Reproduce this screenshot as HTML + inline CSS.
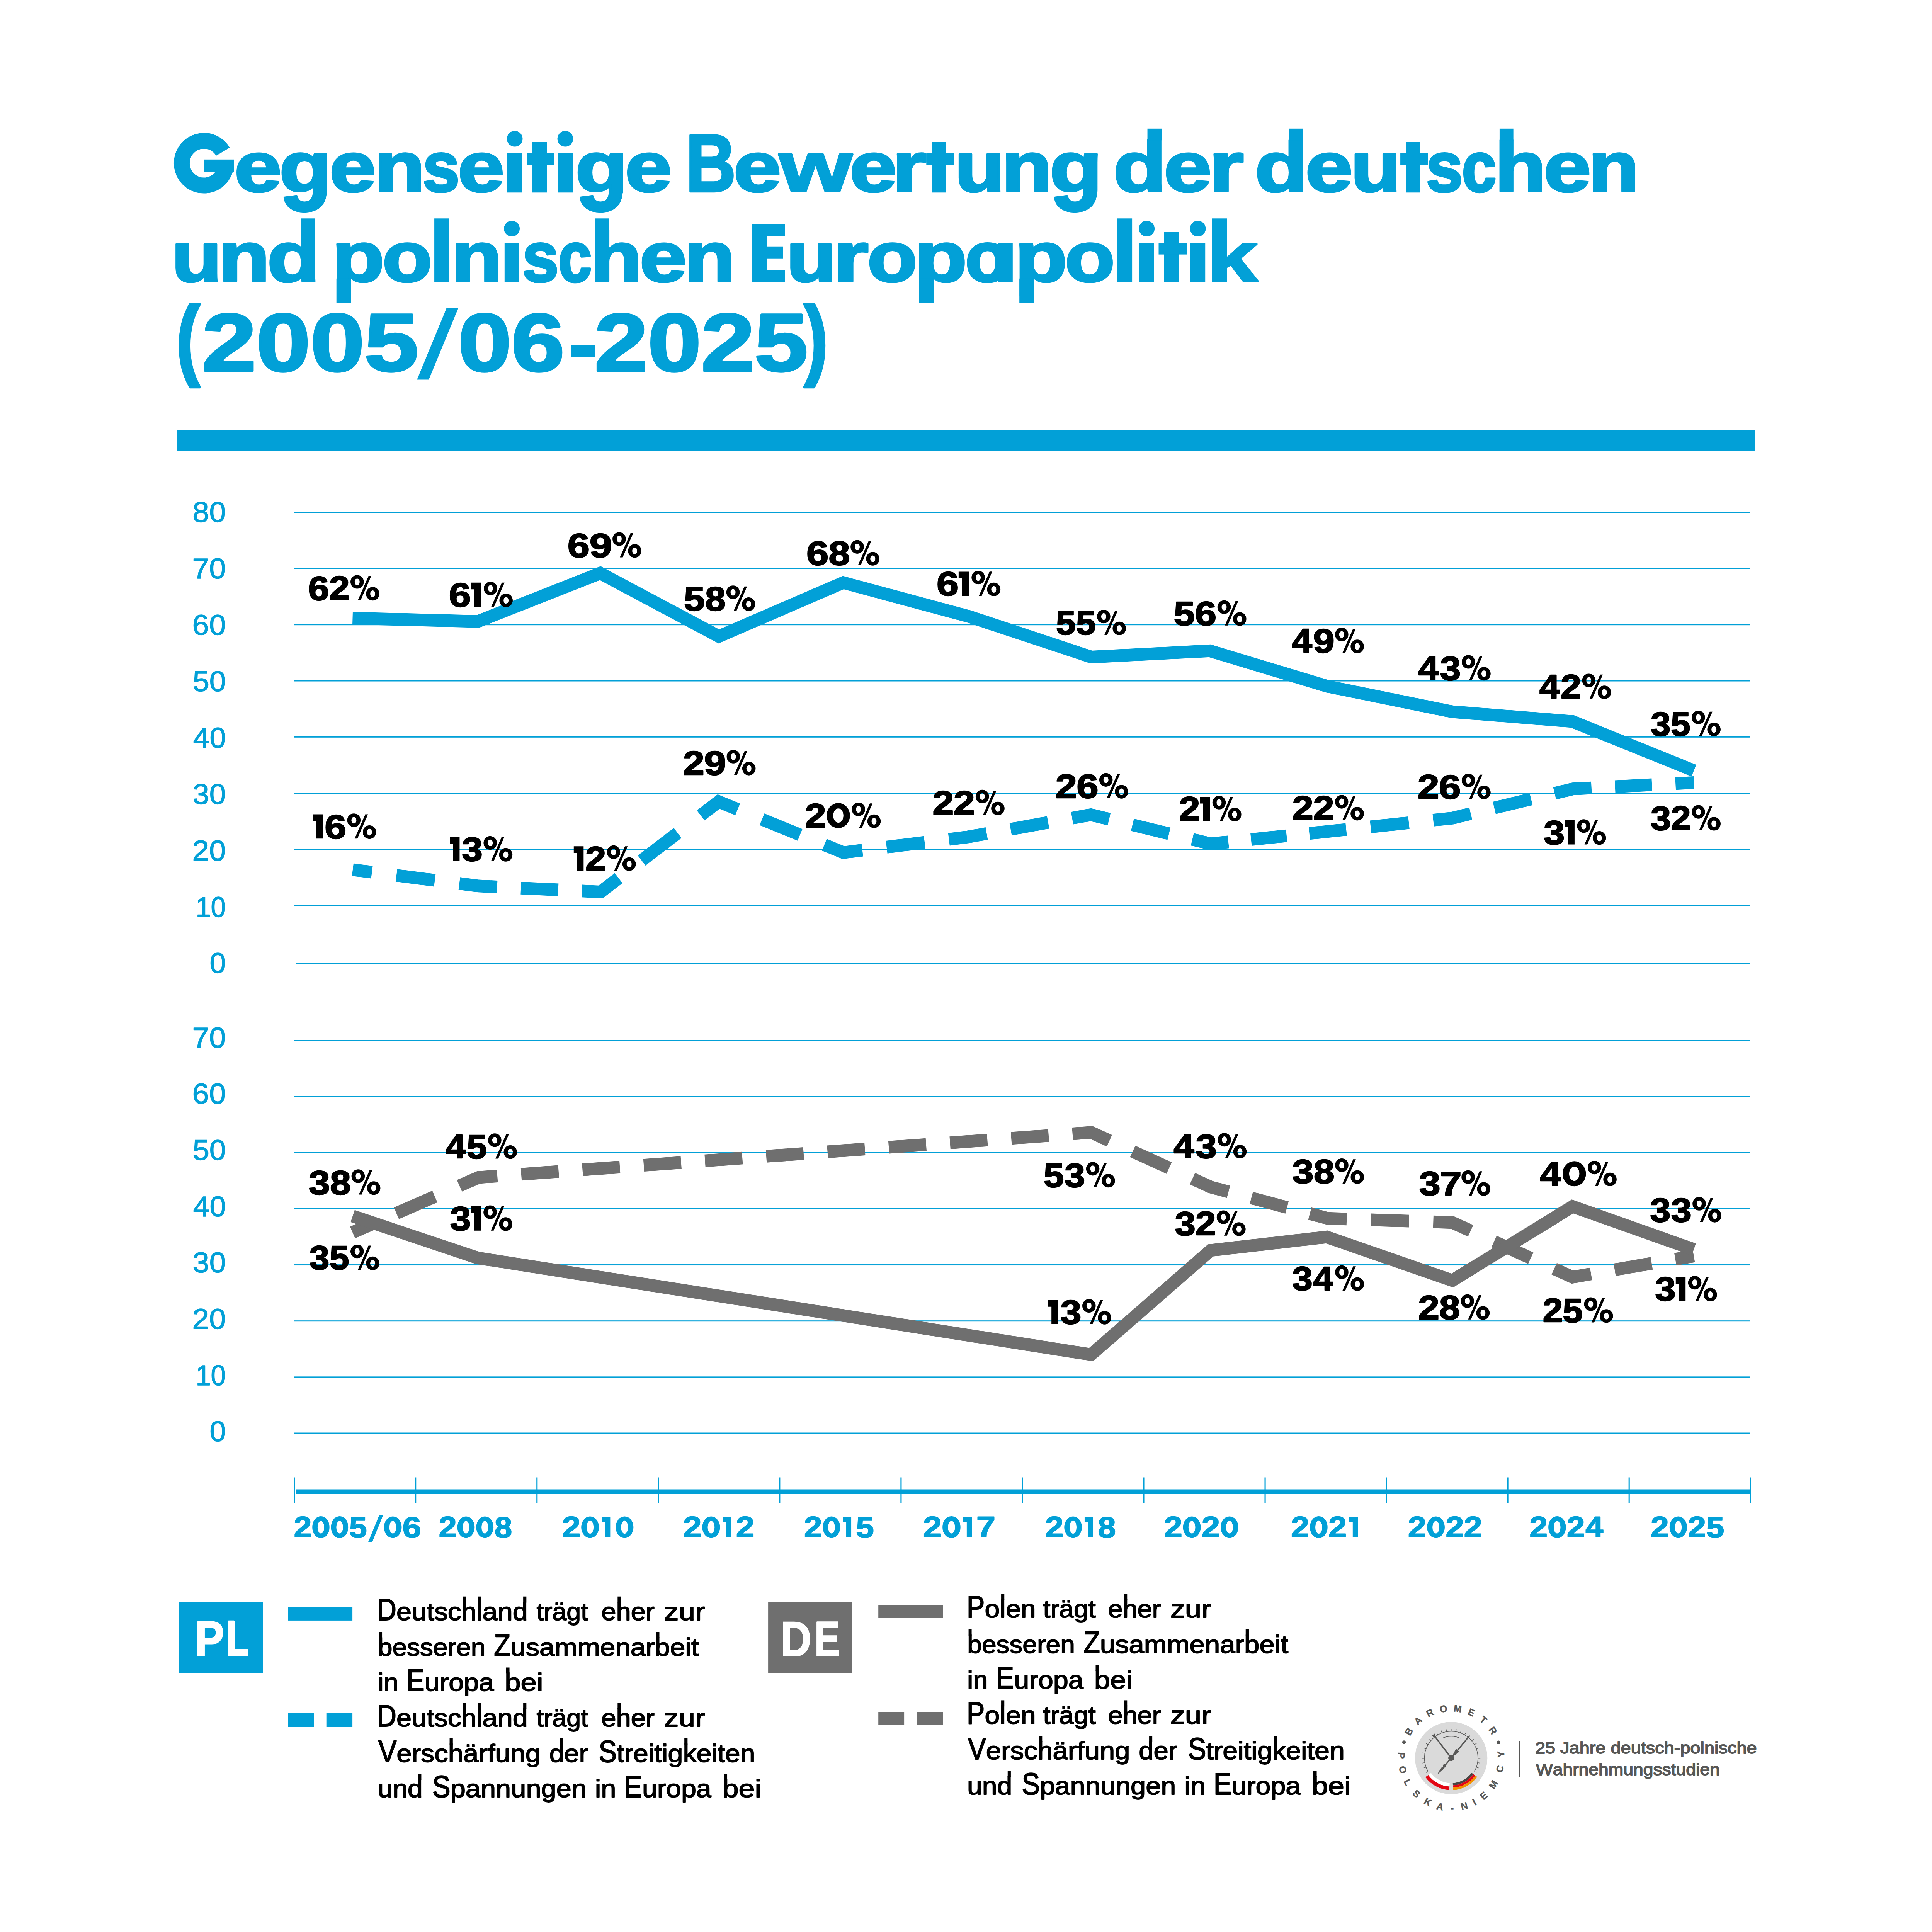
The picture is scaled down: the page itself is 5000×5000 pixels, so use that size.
<!DOCTYPE html>
<html lang="de">
<head>
<meta charset="utf-8">
<title>Gegenseitige Bewertung der deutschen und polnischen Europapolitik (2005/06-2025)</title>
<style>
html,body{margin:0;padding:0;background:#fff;}
body{width:5000px;height:5000px;overflow:hidden;}
svg{display:block;font-family:"Liberation Sans",sans-serif;font-kerning:none;font-variant-ligatures:none;}
svg text{white-space:pre;}
</style>
</head>
<body>
<svg width="5000" height="5000" viewBox="0 0 5000 5000">
<rect width="5000" height="5000" fill="#fff"/>
<path d="M577.00 392.46A57.40 57.85 0 1 0 585.20 422.25" fill="none" stroke="#02a0d7" stroke-width="41.0"/>
<rect x="528.80" y="412.80" width="76.90" height="32.4" fill="#02a0d7"/>
<text transform="translate(606.73 495.30) scale(2.1950 1.8220)" font-size="100" font-weight="bold" fill="#02a0d7" stroke="#02a0d7" stroke-width="3.000" stroke-linejoin="round">e</text>
<clipPath id="cg728a"><rect x="708.9" y="298.3" width="157.9" height="200.7"/></clipPath>
<clipPath id="cg728b"><rect x="708.9" y="497.6" width="157.9" height="120"/></clipPath>
<g clip-path="url(#cg728a)"><text transform="translate(722.77 495.30) scale(2.2250 1.8220)" font-size="100" font-weight="bold" fill="#02a0d7" stroke="#02a0d7" stroke-width="2.980" stroke-linejoin="round">g</text></g>
<g clip-path="url(#cg728b)"><text transform="translate(722.77 495.30) scale(2.2250 2.4774)" font-size="100" font-weight="bold" fill="#02a0d7" stroke="#02a0d7" stroke-width="2.556" stroke-linejoin="round">g</text></g>
<text transform="translate(852.66 495.30) scale(2.1619 1.8220)" font-size="100" font-weight="bold" fill="#02a0d7" stroke="#02a0d7" stroke-width="3.023" stroke-linejoin="round">e</text>
<text transform="translate(969.23 495.30) scale(2.1350 1.8220)" font-size="100" font-weight="bold" fill="#02a0d7" stroke="#02a0d7" stroke-width="3.042" stroke-linejoin="round">n</text>
<text transform="translate(1093.97 495.30) scale(1.7147 1.8220)" font-size="100" font-weight="bold" fill="#02a0d7" stroke="#02a0d7" stroke-width="3.395" stroke-linejoin="round">s</text>
<text transform="translate(1184.96 495.30) scale(2.1598 1.8220)" font-size="100" font-weight="bold" fill="#02a0d7" stroke="#02a0d7" stroke-width="3.025" stroke-linejoin="round">e</text>
<rect x="1312.60" y="396.10" width="39.10" height="102.20" fill="#02a0d7"/>
<circle cx="1332.15" cy="359.20" r="20.4" fill="#02a0d7"/>
<rect x="1377.40" y="367.80" width="37.80" height="130.5" fill="#02a0d7"/>
<rect x="1363.50" y="396.10" width="70.90" height="30.0" fill="#02a0d7"/>
<rect x="1443.80" y="396.10" width="38.20" height="102.20" fill="#02a0d7"/>
<circle cx="1462.90" cy="359.20" r="20.4" fill="#02a0d7"/>
<clipPath id="cg1495a"><rect x="1475.1" y="298.3" width="157.6" height="200.7"/></clipPath>
<clipPath id="cg1495b"><rect x="1475.1" y="497.6" width="157.6" height="120"/></clipPath>
<g clip-path="url(#cg1495a)"><text transform="translate(1489.00 495.30) scale(2.2190 1.8220)" font-size="100" font-weight="bold" fill="#02a0d7" stroke="#02a0d7" stroke-width="2.984" stroke-linejoin="round">g</text></g>
<g clip-path="url(#cg1495b)"><text transform="translate(1489.00 495.30) scale(2.2190 2.4774)" font-size="100" font-weight="bold" fill="#02a0d7" stroke="#02a0d7" stroke-width="2.559" stroke-linejoin="round">g</text></g>
<text transform="translate(1617.79 495.30) scale(2.1785 1.8220)" font-size="100" font-weight="bold" fill="#02a0d7" stroke="#02a0d7" stroke-width="3.012" stroke-linejoin="round">e</text>
<text transform="translate(1775.04 495.30) scale(1.7873 2.1076)" font-size="100" font-weight="bold" fill="#02a0d7" stroke="#02a0d7" stroke-width="3.091" stroke-linejoin="round">B</text>
<text transform="translate(1898.55 495.30) scale(2.2137 1.8220)" font-size="100" font-weight="bold" fill="#02a0d7" stroke="#02a0d7" stroke-width="2.988" stroke-linejoin="round">e</text>
<text transform="translate(2016.91 495.30) scale(2.4160 1.8220)" font-size="100" font-weight="bold" fill="#02a0d7" stroke="#02a0d7" stroke-width="2.860" stroke-linejoin="round">w</text>
<text transform="translate(2198.82 495.30) scale(2.1971 1.8220)" font-size="100" font-weight="bold" fill="#02a0d7" stroke="#02a0d7" stroke-width="2.999" stroke-linejoin="round">e</text>
<text transform="translate(2308.96 495.30) scale(2.2817 1.8220)" font-size="100" font-weight="bold" fill="#02a0d7" stroke="#02a0d7" stroke-width="2.943" stroke-linejoin="round">r</text>
<rect x="2411.20" y="367.80" width="37.80" height="130.5" fill="#02a0d7"/>
<rect x="2397.30" y="396.10" width="72.60" height="30.0" fill="#02a0d7"/>
<text transform="translate(2471.01 495.30) scale(2.1101 1.8220)" font-size="100" font-weight="bold" fill="#02a0d7" stroke="#02a0d7" stroke-width="3.060" stroke-linejoin="round">u</text>
<text transform="translate(2592.47 495.30) scale(2.1288 1.8220)" font-size="100" font-weight="bold" fill="#02a0d7" stroke="#02a0d7" stroke-width="3.047" stroke-linejoin="round">n</text>
<clipPath id="cg2722a"><rect x="2702.7" y="298.3" width="158.0" height="200.7"/></clipPath>
<clipPath id="cg2722b"><rect x="2702.7" y="497.6" width="158.0" height="120"/></clipPath>
<g clip-path="url(#cg2722a)"><text transform="translate(2716.57 495.30) scale(2.2270 1.8220)" font-size="100" font-weight="bold" fill="#02a0d7" stroke="#02a0d7" stroke-width="2.979" stroke-linejoin="round">g</text></g>
<g clip-path="url(#cg2722b)"><text transform="translate(2716.57 495.30) scale(2.2270 2.4774)" font-size="100" font-weight="bold" fill="#02a0d7" stroke="#02a0d7" stroke-width="2.554" stroke-linejoin="round">g</text></g>
<text transform="translate(2881.21 495.30) scale(2.2405 1.8220)" font-size="100" font-weight="bold" fill="#02a0d7" stroke="#02a0d7" stroke-width="2.970" stroke-linejoin="round">d</text>
<rect x="2969.56" y="332.80" width="36.74" height="30.48" fill="#02a0d7"/>
<text transform="translate(3012.14 495.30) scale(2.2157 1.8220)" font-size="100" font-weight="bold" fill="#02a0d7" stroke="#02a0d7" stroke-width="2.986" stroke-linejoin="round">e</text>
<text transform="translate(3128.42 495.30) scale(2.3174 1.8220)" font-size="100" font-weight="bold" fill="#02a0d7" stroke="#02a0d7" stroke-width="2.920" stroke-linejoin="round">r</text>
<text transform="translate(3247.52 495.30) scale(2.2385 1.8220)" font-size="100" font-weight="bold" fill="#02a0d7" stroke="#02a0d7" stroke-width="2.971" stroke-linejoin="round">d</text>
<rect x="3335.79" y="332.80" width="36.71" height="30.48" fill="#02a0d7"/>
<text transform="translate(3378.29 495.30) scale(2.2033 1.8220)" font-size="100" font-weight="bold" fill="#02a0d7" stroke="#02a0d7" stroke-width="2.995" stroke-linejoin="round">e</text>
<text transform="translate(3495.68 495.30) scale(2.1163 1.8220)" font-size="100" font-weight="bold" fill="#02a0d7" stroke="#02a0d7" stroke-width="3.056" stroke-linejoin="round">u</text>
<rect x="3638.00" y="367.80" width="37.80" height="130.5" fill="#02a0d7"/>
<rect x="3624.10" y="396.10" width="71.90" height="30.0" fill="#02a0d7"/>
<text transform="translate(3691.02 495.30) scale(1.7001 1.8220)" font-size="100" font-weight="bold" fill="#02a0d7" stroke="#02a0d7" stroke-width="3.409" stroke-linejoin="round">s</text>
<text transform="translate(3783.55 495.30) scale(1.5990 1.8220)" font-size="100" font-weight="bold" fill="#02a0d7" stroke="#02a0d7" stroke-width="3.515" stroke-linejoin="round">c</text>
<text transform="translate(3868.77 495.30) scale(2.1670 1.8220)" font-size="100" font-weight="bold" fill="#02a0d7" stroke="#02a0d7" stroke-width="3.020" stroke-linejoin="round">h</text>
<rect x="3880.90" y="332.80" width="35.73" height="30.48" fill="#02a0d7"/>
<text transform="translate(3995.21 495.30) scale(2.1992 1.8220)" font-size="100" font-weight="bold" fill="#02a0d7" stroke="#02a0d7" stroke-width="2.997" stroke-linejoin="round">e</text>
<text transform="translate(4110.73 495.30) scale(2.1495 1.8220)" font-size="100" font-weight="bold" fill="#02a0d7" stroke="#02a0d7" stroke-width="3.032" stroke-linejoin="round">n</text>
<text transform="translate(444.34 727.80) scale(2.1225 1.8220)" font-size="100" font-weight="bold" fill="#02a0d7" stroke="#02a0d7" stroke-width="3.051" stroke-linejoin="round">u</text>
<text transform="translate(566.29 727.80) scale(2.1557 1.8220)" font-size="100" font-weight="bold" fill="#02a0d7" stroke="#02a0d7" stroke-width="3.028" stroke-linejoin="round">n</text>
<text transform="translate(691.45 727.80) scale(2.2306 1.8220)" font-size="100" font-weight="bold" fill="#02a0d7" stroke="#02a0d7" stroke-width="2.976" stroke-linejoin="round">d</text>
<rect x="779.39" y="565.30" width="36.61" height="30.48" fill="#02a0d7"/>
<text transform="translate(859.05 727.80) scale(2.2226 1.8220)" font-size="100" font-weight="bold" fill="#02a0d7" stroke="#02a0d7" stroke-width="2.982" stroke-linejoin="round">p</text>
<rect x="870.70" y="720.80" width="37.80" height="62.50" fill="#02a0d7"/>
<text transform="translate(989.69 727.80) scale(2.1024 1.8220)" font-size="100" font-weight="bold" fill="#02a0d7" stroke="#02a0d7" stroke-width="3.066" stroke-linejoin="round">o</text>
<rect x="1124.10" y="565.30" width="37.80" height="165.50" fill="#02a0d7"/>
<text transform="translate(1168.68 727.80) scale(2.1267 1.8220)" font-size="100" font-weight="bold" fill="#02a0d7" stroke="#02a0d7" stroke-width="3.048" stroke-linejoin="round">n</text>
<rect x="1305.80" y="628.60" width="37.60" height="102.20" fill="#02a0d7"/>
<circle cx="1324.60" cy="591.70" r="20.4" fill="#02a0d7"/>
<text transform="translate(1351.67 727.80) scale(1.6876 1.8220)" font-size="100" font-weight="bold" fill="#02a0d7" stroke="#02a0d7" stroke-width="3.422" stroke-linejoin="round">s</text>
<text transform="translate(1444.71 727.80) scale(1.5580 1.8220)" font-size="100" font-weight="bold" fill="#02a0d7" stroke="#02a0d7" stroke-width="3.561" stroke-linejoin="round">c</text>
<text transform="translate(1528.88 727.80) scale(2.1649 1.8220)" font-size="100" font-weight="bold" fill="#02a0d7" stroke="#02a0d7" stroke-width="3.021" stroke-linejoin="round">h</text>
<rect x="1541.00" y="565.30" width="35.70" height="30.48" fill="#02a0d7"/>
<text transform="translate(1655.54 727.80) scale(2.1909 1.8220)" font-size="100" font-weight="bold" fill="#02a0d7" stroke="#02a0d7" stroke-width="3.003" stroke-linejoin="round">e</text>
<text transform="translate(1772.17 727.80) scale(2.1288 1.8220)" font-size="100" font-weight="bold" fill="#02a0d7" stroke="#02a0d7" stroke-width="3.047" stroke-linejoin="round">n</text>
<path fill="#02a0d7" d="M1946.10 579.80H2031.00v31H1984.60v27H2026.30v31H1984.60v29.4H2031.00V730.80H1946.10z"/>
<text transform="translate(2035.50 727.80) scale(2.0956 1.8220)" font-size="100" font-weight="bold" fill="#02a0d7" stroke="#02a0d7" stroke-width="3.071" stroke-linejoin="round">u</text>
<text transform="translate(2156.94 727.80) scale(2.3304 1.8220)" font-size="100" font-weight="bold" fill="#02a0d7" stroke="#02a0d7" stroke-width="2.912" stroke-linejoin="round">r</text>
<text transform="translate(2244.75 727.80) scale(2.1118 1.8220)" font-size="100" font-weight="bold" fill="#02a0d7" stroke="#02a0d7" stroke-width="3.059" stroke-linejoin="round">o</text>
<text transform="translate(2366.75 727.80) scale(2.2226 1.8220)" font-size="100" font-weight="bold" fill="#02a0d7" stroke="#02a0d7" stroke-width="2.982" stroke-linejoin="round">p</text>
<rect x="2378.40" y="720.80" width="37.80" height="62.50" fill="#02a0d7"/>
<text transform="translate(2498.27 727.80) scale(1.8772 1.8220)" font-size="100" font-weight="bold" fill="#02a0d7" stroke="#02a0d7" stroke-width="3.244" stroke-linejoin="round">o</text>
<rect x="2583.00" y="628.60" width="37.80" height="102.20" fill="#02a0d7"/>
<text transform="translate(2626.60 727.80) scale(2.2147 1.8220)" font-size="100" font-weight="bold" fill="#02a0d7" stroke="#02a0d7" stroke-width="2.987" stroke-linejoin="round">p</text>
<rect x="2638.20" y="720.80" width="37.80" height="62.50" fill="#02a0d7"/>
<text transform="translate(2755.95 727.80) scale(2.1118 1.8220)" font-size="100" font-weight="bold" fill="#02a0d7" stroke="#02a0d7" stroke-width="3.059" stroke-linejoin="round">o</text>
<rect x="2892.00" y="565.30" width="38.10" height="165.50" fill="#02a0d7"/>
<rect x="2948.50" y="628.60" width="38.40" height="102.20" fill="#02a0d7"/>
<circle cx="2967.70" cy="591.70" r="20.4" fill="#02a0d7"/>
<rect x="3012.40" y="600.30" width="37.80" height="130.5" fill="#02a0d7"/>
<rect x="2998.50" y="628.60" width="72.50" height="30.0" fill="#02a0d7"/>
<rect x="3080.80" y="628.60" width="38.40" height="102.20" fill="#02a0d7"/>
<circle cx="3100.00" cy="591.70" r="20.4" fill="#02a0d7"/>
<text transform="translate(3123.47 727.80) scale(2.3538 1.8220)" font-size="100" font-weight="bold" fill="#02a0d7" stroke="#02a0d7" stroke-width="2.897" stroke-linejoin="round">k</text>
<rect x="3136.90" y="565.30" width="38.30" height="30.48" fill="#02a0d7"/>
<text transform="translate(456.16 954.18) scale(1.8354 2.2947)" font-size="100" font-weight="bold" fill="#02a0d7" stroke="#02a0d7" stroke-width="2.924" stroke-linejoin="round">(</text>
<text transform="translate(523.27 960.30) scale(2.5170 2.1076)" font-size="100" font-weight="bold" fill="#02a0d7" stroke="#02a0d7" stroke-width="2.605" stroke-linejoin="round">2005</text>
<path d="M1155.5 797.4H1186L1109.7 982.6H1079.2z" fill="#02a0d7"/>
<text transform="translate(1185.51 960.30) scale(2.4753 2.1076)" font-size="100" font-weight="bold" fill="#02a0d7" stroke="#02a0d7" stroke-width="2.627" stroke-linejoin="round">06</text>
<rect x="1477.2" y="893.5" width="62.3" height="31.2" fill="#02a0d7"/>
<text transform="translate(1538.39 960.30) scale(2.4837 2.1076)" font-size="100" font-weight="bold" fill="#02a0d7" stroke="#02a0d7" stroke-width="2.622" stroke-linejoin="round">2025</text>
<text transform="translate(2081.02 954.18) scale(1.8531 2.2947)" font-size="100" font-weight="bold" fill="#02a0d7" stroke="#02a0d7" stroke-width="2.910" stroke-linejoin="round">)</text>
<rect x="458" y="1112" width="4084" height="55" fill="#02a0d7"/>
<rect x="760" y="1324.60" width="3769" height="3" fill="#02a0d7"/>
<rect x="760" y="1469.90" width="3769" height="3" fill="#02a0d7"/>
<rect x="760" y="1615.20" width="3769" height="3" fill="#02a0d7"/>
<rect x="760" y="1760.50" width="3769" height="3" fill="#02a0d7"/>
<rect x="760" y="1905.80" width="3769" height="3" fill="#02a0d7"/>
<rect x="760" y="2051.10" width="3769" height="3" fill="#02a0d7"/>
<rect x="760" y="2196.40" width="3769" height="3" fill="#02a0d7"/>
<rect x="760" y="2341.70" width="3769" height="3" fill="#02a0d7"/>
<rect x="766" y="2491.60" width="3763" height="3" fill="#02a0d7"/>
<rect x="760" y="2691.40" width="3769" height="3" fill="#02a0d7"/>
<rect x="760" y="2836.56" width="3769" height="3" fill="#02a0d7"/>
<rect x="760" y="2981.72" width="3769" height="3" fill="#02a0d7"/>
<rect x="760" y="3126.88" width="3769" height="3" fill="#02a0d7"/>
<rect x="760" y="3272.04" width="3769" height="3" fill="#02a0d7"/>
<rect x="760" y="3417.20" width="3769" height="3" fill="#02a0d7"/>
<rect x="760" y="3562.36" width="3769" height="3" fill="#02a0d7"/>
<rect x="760" y="3707.52" width="3769" height="3" fill="#02a0d7"/>
<text transform="translate(498.15 1351.25) scale(0.7817 0.7485)" font-size="100" font-weight="normal" fill="#02a0d7" stroke="#02a0d7" stroke-width="1.961" stroke-linejoin="round">80</text>
<text transform="translate(497.51 1497.15) scale(0.7877 0.7485)" font-size="100" font-weight="normal" fill="#02a0d7" stroke="#02a0d7" stroke-width="1.953" stroke-linejoin="round">70</text>
<text transform="translate(497.55 1643.05) scale(0.7873 0.7485)" font-size="100" font-weight="normal" fill="#02a0d7" stroke="#02a0d7" stroke-width="1.954" stroke-linejoin="round">60</text>
<text transform="translate(498.43 1788.95) scale(0.7791 0.7485)" font-size="100" font-weight="normal" fill="#02a0d7" stroke="#02a0d7" stroke-width="1.964" stroke-linejoin="round">50</text>
<text transform="translate(499.79 1934.85) scale(0.7665 0.7485)" font-size="100" font-weight="normal" fill="#02a0d7" stroke="#02a0d7" stroke-width="1.980" stroke-linejoin="round">40</text>
<text transform="translate(498.59 2080.75) scale(0.7777 0.7485)" font-size="100" font-weight="normal" fill="#02a0d7" stroke="#02a0d7" stroke-width="1.966" stroke-linejoin="round">30</text>
<text transform="translate(497.59 2226.65) scale(0.7869 0.7485)" font-size="100" font-weight="normal" fill="#02a0d7" stroke="#02a0d7" stroke-width="1.954" stroke-linejoin="round">20</text>
<text transform="translate(506.38 2372.55) scale(0.7051 0.7485)" font-size="100" font-weight="normal" fill="#02a0d7" stroke="#02a0d7" stroke-width="2.065" stroke-linejoin="round">10</text>
<text transform="translate(542.57 2518.45) scale(0.7636 0.7485)" font-size="100" font-weight="normal" fill="#02a0d7" stroke="#02a0d7" stroke-width="1.984" stroke-linejoin="round">0</text>
<text transform="translate(497.51 2710.55) scale(0.7877 0.7485)" font-size="100" font-weight="normal" fill="#02a0d7" stroke="#02a0d7" stroke-width="1.953" stroke-linejoin="round">70</text>
<text transform="translate(497.55 2856.25) scale(0.7873 0.7485)" font-size="100" font-weight="normal" fill="#02a0d7" stroke="#02a0d7" stroke-width="1.954" stroke-linejoin="round">60</text>
<text transform="translate(498.43 3001.95) scale(0.7791 0.7485)" font-size="100" font-weight="normal" fill="#02a0d7" stroke="#02a0d7" stroke-width="1.964" stroke-linejoin="round">50</text>
<text transform="translate(499.79 3147.65) scale(0.7665 0.7485)" font-size="100" font-weight="normal" fill="#02a0d7" stroke="#02a0d7" stroke-width="1.980" stroke-linejoin="round">40</text>
<text transform="translate(498.59 3293.35) scale(0.7777 0.7485)" font-size="100" font-weight="normal" fill="#02a0d7" stroke="#02a0d7" stroke-width="1.966" stroke-linejoin="round">30</text>
<text transform="translate(497.59 3439.05) scale(0.7869 0.7485)" font-size="100" font-weight="normal" fill="#02a0d7" stroke="#02a0d7" stroke-width="1.954" stroke-linejoin="round">20</text>
<text transform="translate(506.38 3584.75) scale(0.7051 0.7485)" font-size="100" font-weight="normal" fill="#02a0d7" stroke="#02a0d7" stroke-width="2.065" stroke-linejoin="round">10</text>
<text transform="translate(542.57 3730.45) scale(0.7636 0.7485)" font-size="100" font-weight="normal" fill="#02a0d7" stroke="#02a0d7" stroke-width="1.984" stroke-linejoin="round">0</text>
<polyline points="912.9,2250.7 1238.4,2293.0 1554.4,2308.3 1859.9,2074.5 2182.6,2206.4 2505.0,2166.0 2823.2,2108.5 3133.0,2183.7 3434.6,2152.0 3758.7,2117.2 4071.0,2041.6 4384.0,2025.3" fill="none" stroke="#02a0d7" stroke-width="32.8" stroke-linejoin="miter" stroke-miterlimit="10" stroke-dasharray="50.06 64.00 100.12 64.00 98.31 61.68 96.50 61.68 106.92 75.00 117.35 75.00 111.84 67.97 106.34 67.97 102.72 63.35 99.11 63.35 98.87 63.04 98.63 63.04 97.94 62.16 97.24 62.16 94.87 59.13 92.50 59.13 95.97 63.55 99.43 63.55 98.72 62.65 98.01 62.65 96.81 61.11 95.60 61.11 47.80 0.01 0.00 99999.00"/>
<polyline points="912.5,1599.8 1236.8,1608.3 1553.4,1483.4 1860.3,1647.0 2182.4,1507.7 2507.9,1595.5 2824.1,1700.4 3131.0,1684.3 3434.6,1776.0 3758.7,1842.0 4069.6,1867.2 4383.7,1994.4" fill="none" stroke="#02a0d7" stroke-width="32.8" stroke-linejoin="miter" stroke-miterlimit="10"/>
<polyline points="912.5,3189.6 1238.8,3047.1 2824.0,2930.7 3133.1,3072.0 3436.0,3153.2 3758.5,3163.8 4069.7,3305.2 4383.6,3250.5" fill="none" stroke="#6f6f6f" stroke-width="32.8" stroke-linejoin="miter" stroke-miterlimit="10" stroke-dasharray="54.30 69.42 108.61 69.42 102.79 61.98 96.97 61.98 96.97 61.98 96.97 61.98 96.97 61.98 96.97 61.98 96.97 61.98 96.97 61.98 96.97 61.98 96.97 61.98 100.32 66.26 103.67 66.26 99.66 61.14 95.66 61.14 97.04 62.91 98.43 62.91 101.35 66.64 104.27 66.64 100.73 62.12 97.19 62.12 48.60 0.01 0.00 99999.00"/>
<polyline points="912.7,3147.1 1236.0,3255.4 2823.8,3505.7 3133.2,3236.0 3433.6,3201.3 3758.7,3313.9 4069.7,3122.4 4383.6,3233.5" fill="none" stroke="#6f6f6f" stroke-width="32.8" stroke-linejoin="miter" stroke-miterlimit="10"/>
<defs><g id="pct"><path fill-rule="evenodd" d="M0 -47.57a17.29 17.6 0 1 0 34.58 0a17.29 17.6 0 1 0 -34.58 0zM10.79 -47.57a6.5 8.67 0 1 0 13 0a6.5 8.67 0 1 0 -13 0z"/><path fill-rule="evenodd" d="M40.29 -16.77a17.29 17.6 0 1 0 34.58 0a17.29 17.6 0 1 0 -34.58 0zM51.08 -16.77a6.5 8.67 0 1 0 13 0a6.5 8.67 0 1 0 -13 0z"/><path d="M46.74 -62.73L53.67 -62.73L26.29 0L19.15 0z"/></g></defs>
<text transform="translate(797.35 1552.75) scale(0.9822 0.8794)" font-size="100" font-weight="bold" fill="#000" stroke="#000" stroke-width="2.690" stroke-linejoin="round">6</text>
<text transform="translate(851.52 1552.25) scale(0.9616 0.8794)" font-size="100" font-weight="bold" fill="#000" stroke="#000" stroke-width="2.719" stroke-linejoin="round">2</text>
<use href="#pct" x="907.00" y="1553.50"/>
<text transform="translate(1161.46 1569.75) scale(1.0363 0.8794)" font-size="100" font-weight="bold" fill="#000" stroke="#000" stroke-width="2.619" stroke-linejoin="round">6</text>
<path d="M1218.66 1507.80H1245.50V1570.50H1227.43V1525.20H1218.66z" fill="#000"/>
<use href="#pct" x="1252.10" y="1570.50"/>
<text transform="translate(1468.45 1441.75) scale(1.0377 0.8794)" font-size="100" font-weight="bold" fill="#000" stroke="#000" stroke-width="2.617" stroke-linejoin="round">6</text>
<text transform="translate(1525.38 1441.75) scale(1.0571 0.8794)" font-size="100" font-weight="bold" fill="#000" stroke="#000" stroke-width="2.593" stroke-linejoin="round">9</text>
<use href="#pct" x="1585.10" y="1442.50"/>
<text transform="translate(1769.64 1579.65) scale(0.9789 0.8794)" font-size="100" font-weight="bold" fill="#000" stroke="#000" stroke-width="2.695" stroke-linejoin="round">5</text>
<text transform="translate(1824.80 1579.65) scale(0.9622 0.8794)" font-size="100" font-weight="bold" fill="#000" stroke="#000" stroke-width="2.718" stroke-linejoin="round">8</text>
<use href="#pct" x="1879.80" y="1580.40"/>
<text transform="translate(2086.64 1462.15) scale(1.0405 0.8794)" font-size="100" font-weight="bold" fill="#000" stroke="#000" stroke-width="2.614" stroke-linejoin="round">6</text>
<text transform="translate(2144.22 1462.15) scale(0.9999 0.8794)" font-size="100" font-weight="bold" fill="#000" stroke="#000" stroke-width="2.666" stroke-linejoin="round">8</text>
<use href="#pct" x="2201.20" y="1462.90"/>
<text transform="translate(2423.66 1541.35) scale(1.0363 0.8794)" font-size="100" font-weight="bold" fill="#000" stroke="#000" stroke-width="2.619" stroke-linejoin="round">6</text>
<path d="M2480.86 1479.40H2507.70V1542.10H2489.63V1496.80H2480.86z" fill="#000"/>
<use href="#pct" x="2514.30" y="1542.10"/>
<text transform="translate(2732.83 1642.35) scale(0.9179 0.8794)" font-size="100" font-weight="bold" fill="#000" stroke="#000" stroke-width="2.783" stroke-linejoin="round">5</text>
<text transform="translate(2784.76 1642.35) scale(0.9179 0.8794)" font-size="100" font-weight="bold" fill="#000" stroke="#000" stroke-width="2.783" stroke-linejoin="round">5</text>
<use href="#pct" x="2839.10" y="1643.10"/>
<text transform="translate(3037.42 1618.05) scale(0.9866 0.8794)" font-size="100" font-weight="bold" fill="#000" stroke="#000" stroke-width="2.684" stroke-linejoin="round">5</text>
<text transform="translate(3092.37 1618.05) scale(1.0092 0.8794)" font-size="100" font-weight="bold" fill="#000" stroke="#000" stroke-width="2.654" stroke-linejoin="round">6</text>
<use href="#pct" x="3150.70" y="1618.80"/>
<text transform="translate(3343.43 1688.45) scale(0.9414 0.8794)" font-size="100" font-weight="bold" fill="#000" stroke="#000" stroke-width="2.748" stroke-linejoin="round">4</text>
<text transform="translate(3398.23 1688.95) scale(1.0003 0.8794)" font-size="100" font-weight="bold" fill="#000" stroke="#000" stroke-width="2.666" stroke-linejoin="round">9</text>
<use href="#pct" x="3455.00" y="1689.70"/>
<text transform="translate(3670.73 1759.25) scale(0.9395 0.8794)" font-size="100" font-weight="bold" fill="#000" stroke="#000" stroke-width="2.750" stroke-linejoin="round">4</text>
<text transform="translate(3726.67 1759.75) scale(0.9689 0.8794)" font-size="100" font-weight="bold" fill="#000" stroke="#000" stroke-width="2.708" stroke-linejoin="round">3</text>
<use href="#pct" x="3782.90" y="1760.50"/>
<text transform="translate(3983.92 1807.35) scale(0.9429 0.8794)" font-size="100" font-weight="bold" fill="#000" stroke="#000" stroke-width="2.745" stroke-linejoin="round">4</text>
<text transform="translate(4038.95 1807.35) scale(0.9630 0.8794)" font-size="100" font-weight="bold" fill="#000" stroke="#000" stroke-width="2.717" stroke-linejoin="round">2</text>
<use href="#pct" x="4094.50" y="1808.60"/>
<text transform="translate(4272.02 1903.65) scale(0.9286 0.8794)" font-size="100" font-weight="bold" fill="#000" stroke="#000" stroke-width="2.767" stroke-linejoin="round">3</text>
<text transform="translate(4323.74 1903.65) scale(0.9181 0.8794)" font-size="100" font-weight="bold" fill="#000" stroke="#000" stroke-width="2.782" stroke-linejoin="round">5</text>
<use href="#pct" x="4378.10" y="1904.40"/>
<path d="M809.00 2107.60H835.33V2170.30H817.61V2125.00H809.00z" fill="#000"/>
<text transform="translate(839.95 2169.55) scale(1.0154 0.8794)" font-size="100" font-weight="bold" fill="#000" stroke="#000" stroke-width="2.646" stroke-linejoin="round">6</text>
<use href="#pct" x="898.60" y="2170.30"/>
<path d="M1164.00 2166.30H1189.40V2229.00H1172.30V2183.70H1164.00z" fill="#000"/>
<text transform="translate(1195.27 2228.25) scale(0.9668 0.8794)" font-size="100" font-weight="bold" fill="#000" stroke="#000" stroke-width="2.711" stroke-linejoin="round">3</text>
<use href="#pct" x="1251.40" y="2229.00"/>
<path d="M1484.80 2190.30H1510.32V2253.00H1493.14V2207.70H1484.80z" fill="#000"/>
<text transform="translate(1515.10 2251.75) scale(0.9620 0.8794)" font-size="100" font-weight="bold" fill="#000" stroke="#000" stroke-width="2.718" stroke-linejoin="round">2</text>
<use href="#pct" x="1570.60" y="2253.00"/>
<text transform="translate(1767.80 2004.55) scale(0.9940 0.8794)" font-size="100" font-weight="bold" fill="#000" stroke="#000" stroke-width="2.674" stroke-linejoin="round">2</text>
<text transform="translate(1822.07 2005.05) scale(1.0342 0.8794)" font-size="100" font-weight="bold" fill="#000" stroke="#000" stroke-width="2.622" stroke-linejoin="round">9</text>
<use href="#pct" x="1880.60" y="2005.80"/>
<text transform="translate(2082.92 2140.85) scale(0.9899 0.8794)" font-size="100" font-weight="bold" fill="#000" stroke="#000" stroke-width="2.680" stroke-linejoin="round">2</text>
<path fill-rule="evenodd" fill="#000" d="M2139.29 2110.75a30.25 32.40 0 1 0 60.51 0a30.25 32.40 0 1 0 -60.51 0zM2156.34 2110.75a13.21 18.45 0 1 0 26.42 0a13.21 18.45 0 1 0 -26.42 0z"/>
<use href="#pct" x="2204.40" y="2142.10"/>
<text transform="translate(2413.30 2107.75) scale(0.9944 0.8794)" font-size="100" font-weight="bold" fill="#000" stroke="#000" stroke-width="2.673" stroke-linejoin="round">2</text>
<text transform="translate(2467.73 2107.75) scale(0.9944 0.8794)" font-size="100" font-weight="bold" fill="#000" stroke="#000" stroke-width="2.673" stroke-linejoin="round">2</text>
<use href="#pct" x="2524.90" y="2109.00"/>
<text transform="translate(2731.38 2064.65) scale(1.0011 0.8794)" font-size="100" font-weight="bold" fill="#000" stroke="#000" stroke-width="2.665" stroke-linejoin="round">2</text>
<text transform="translate(2785.88 2065.15) scale(1.0225 0.8794)" font-size="100" font-weight="bold" fill="#000" stroke="#000" stroke-width="2.637" stroke-linejoin="round">6</text>
<use href="#pct" x="2844.90" y="2065.90"/>
<text transform="translate(3050.94 2123.45) scale(0.9846 0.8794)" font-size="100" font-weight="bold" fill="#000" stroke="#000" stroke-width="2.687" stroke-linejoin="round">2</text>
<path d="M3105.01 2062.00H3131.10V2124.70H3113.54V2079.40H3105.01z" fill="#000"/>
<use href="#pct" x="3137.70" y="2124.70"/>
<text transform="translate(3344.13 2121.35) scale(0.9864 0.8794)" font-size="100" font-weight="bold" fill="#000" stroke="#000" stroke-width="2.684" stroke-linejoin="round">2</text>
<text transform="translate(3398.14 2121.35) scale(0.9864 0.8794)" font-size="100" font-weight="bold" fill="#000" stroke="#000" stroke-width="2.684" stroke-linejoin="round">2</text>
<use href="#pct" x="3454.90" y="2122.60"/>
<text transform="translate(3668.66 2066.15) scale(1.0080 0.8794)" font-size="100" font-weight="bold" fill="#000" stroke="#000" stroke-width="2.655" stroke-linejoin="round">2</text>
<text transform="translate(3723.51 2066.65) scale(1.0295 0.8794)" font-size="100" font-weight="bold" fill="#000" stroke="#000" stroke-width="2.627" stroke-linejoin="round">6</text>
<use href="#pct" x="3782.90" y="2067.40"/>
<text transform="translate(3995.00 2184.65) scale(0.9797 0.8794)" font-size="100" font-weight="bold" fill="#000" stroke="#000" stroke-width="2.693" stroke-linejoin="round">3</text>
<path d="M4049.18 2122.70H4074.90V2185.40H4057.59V2140.10H4049.18z" fill="#000"/>
<use href="#pct" x="4081.50" y="2185.40"/>
<text transform="translate(4271.99 2147.95) scale(0.9425 0.8794)" font-size="100" font-weight="bold" fill="#000" stroke="#000" stroke-width="2.746" stroke-linejoin="round">3</text>
<text transform="translate(4324.08 2147.45) scale(0.9333 0.8794)" font-size="100" font-weight="bold" fill="#000" stroke="#000" stroke-width="2.760" stroke-linejoin="round">2</text>
<use href="#pct" x="4378.10" y="2148.70"/>
<text transform="translate(798.66 3090.75) scale(0.9997 0.8794)" font-size="100" font-weight="bold" fill="#000" stroke="#000" stroke-width="2.666" stroke-linejoin="round">3</text>
<text transform="translate(854.09 3090.75) scale(0.9718 0.8794)" font-size="100" font-weight="bold" fill="#000" stroke="#000" stroke-width="2.704" stroke-linejoin="round">8</text>
<use href="#pct" x="909.60" y="3091.50"/>
<text transform="translate(800.82 3285.45) scale(0.9295 0.8794)" font-size="100" font-weight="bold" fill="#000" stroke="#000" stroke-width="2.765" stroke-linejoin="round">3</text>
<text transform="translate(852.59 3285.45) scale(0.9191 0.8794)" font-size="100" font-weight="bold" fill="#000" stroke="#000" stroke-width="2.781" stroke-linejoin="round">5</text>
<use href="#pct" x="907.00" y="3286.20"/>
<text transform="translate(1153.56 2997.15) scale(0.9201 0.8794)" font-size="100" font-weight="bold" fill="#000" stroke="#000" stroke-width="2.779" stroke-linejoin="round">4</text>
<text transform="translate(1207.69 2997.65) scale(0.9382 0.8794)" font-size="100" font-weight="bold" fill="#000" stroke="#000" stroke-width="2.752" stroke-linejoin="round">5</text>
<use href="#pct" x="1263.10" y="2998.40"/>
<text transform="translate(1164.60 3183.95) scale(0.9810 0.8794)" font-size="100" font-weight="bold" fill="#000" stroke="#000" stroke-width="2.692" stroke-linejoin="round">3</text>
<path d="M1218.84 3122.00H1244.60V3184.70H1227.26V3139.40H1218.84z" fill="#000"/>
<use href="#pct" x="1251.20" y="3184.70"/>
<text transform="translate(2700.83 3071.65) scale(0.9480 0.8794)" font-size="100" font-weight="bold" fill="#000" stroke="#000" stroke-width="2.738" stroke-linejoin="round">5</text>
<text transform="translate(2755.09 3071.65) scale(0.9587 0.8794)" font-size="100" font-weight="bold" fill="#000" stroke="#000" stroke-width="2.723" stroke-linejoin="round">3</text>
<use href="#pct" x="2810.80" y="3072.40"/>
<text transform="translate(3037.20 2996.05) scale(0.9579 0.8794)" font-size="100" font-weight="bold" fill="#000" stroke="#000" stroke-width="2.724" stroke-linejoin="round">4</text>
<text transform="translate(3094.18 2996.55) scale(0.9879 0.8794)" font-size="100" font-weight="bold" fill="#000" stroke="#000" stroke-width="2.682" stroke-linejoin="round">3</text>
<use href="#pct" x="3151.40" y="2997.30"/>
<text transform="translate(3040.54 3196.95) scale(0.9633 0.8794)" font-size="100" font-weight="bold" fill="#000" stroke="#000" stroke-width="2.716" stroke-linejoin="round">3</text>
<text transform="translate(3093.72 3196.45) scale(0.9539 0.8794)" font-size="100" font-weight="bold" fill="#000" stroke="#000" stroke-width="2.730" stroke-linejoin="round">2</text>
<use href="#pct" x="3148.80" y="3197.70"/>
<path d="M2712.80 3364.30H2738.45V3427.00H2721.19V3381.70H2712.80z" fill="#000"/>
<text transform="translate(2744.36 3426.25) scale(0.9767 0.8794)" font-size="100" font-weight="bold" fill="#000" stroke="#000" stroke-width="2.698" stroke-linejoin="round">3</text>
<use href="#pct" x="2801.00" y="3427.00"/>
<text transform="translate(3344.26 3062.35) scale(0.9997 0.8794)" font-size="100" font-weight="bold" fill="#000" stroke="#000" stroke-width="2.666" stroke-linejoin="round">3</text>
<text transform="translate(3399.69 3062.35) scale(0.9718 0.8794)" font-size="100" font-weight="bold" fill="#000" stroke="#000" stroke-width="2.704" stroke-linejoin="round">8</text>
<use href="#pct" x="3455.20" y="3063.10"/>
<text transform="translate(3344.37 3339.25) scale(0.9489 0.8794)" font-size="100" font-weight="bold" fill="#000" stroke="#000" stroke-width="2.737" stroke-linejoin="round">3</text>
<text transform="translate(3398.67 3338.75) scale(0.9202 0.8794)" font-size="100" font-weight="bold" fill="#000" stroke="#000" stroke-width="2.779" stroke-linejoin="round">4</text>
<use href="#pct" x="3455.20" y="3340.00"/>
<text transform="translate(3672.46 3093.15) scale(0.9968 0.8794)" font-size="100" font-weight="bold" fill="#000" stroke="#000" stroke-width="2.670" stroke-linejoin="round">3</text>
<text transform="translate(3726.47 3092.65) scale(1.0129 0.8794)" font-size="100" font-weight="bold" fill="#000" stroke="#000" stroke-width="2.649" stroke-linejoin="round">7</text>
<use href="#pct" x="3782.30" y="3093.90"/>
<text transform="translate(3670.32 3413.55) scale(0.9894 0.8794)" font-size="100" font-weight="bold" fill="#000" stroke="#000" stroke-width="2.680" stroke-linejoin="round">2</text>
<text transform="translate(3724.83 3414.05) scale(0.9710 0.8794)" font-size="100" font-weight="bold" fill="#000" stroke="#000" stroke-width="2.705" stroke-linejoin="round">8</text>
<use href="#pct" x="3780.30" y="3414.80"/>
<text transform="translate(3985.38 3067.85) scale(0.9679 0.8794)" font-size="100" font-weight="bold" fill="#000" stroke="#000" stroke-width="2.710" stroke-linejoin="round">4</text>
<path fill-rule="evenodd" fill="#000" d="M4043.97 3037.75a30.21 32.40 0 1 0 60.43 0a30.21 32.40 0 1 0 -60.43 0zM4060.99 3037.75a13.19 18.45 0 1 0 26.39 0a13.19 18.45 0 1 0 -26.39 0z"/>
<use href="#pct" x="4109.00" y="3069.10"/>
<text transform="translate(3992.40 3421.35) scale(0.9380 0.8794)" font-size="100" font-weight="bold" fill="#000" stroke="#000" stroke-width="2.753" stroke-linejoin="round">2</text>
<text transform="translate(4044.26 3421.85) scale(0.9367 0.8794)" font-size="100" font-weight="bold" fill="#000" stroke="#000" stroke-width="2.755" stroke-linejoin="round">5</text>
<use href="#pct" x="4099.60" y="3422.60"/>
<text transform="translate(4270.35 3162.05) scale(0.9598 0.8794)" font-size="100" font-weight="bold" fill="#000" stroke="#000" stroke-width="2.721" stroke-linejoin="round">3</text>
<text transform="translate(4324.44 3162.05) scale(0.9598 0.8794)" font-size="100" font-weight="bold" fill="#000" stroke="#000" stroke-width="2.721" stroke-linejoin="round">3</text>
<use href="#pct" x="4380.20" y="3162.80"/>
<text transform="translate(4283.33 3366.45) scale(0.9666 0.8794)" font-size="100" font-weight="bold" fill="#000" stroke="#000" stroke-width="2.712" stroke-linejoin="round">3</text>
<path d="M4336.80 3304.50H4362.20V3367.20H4345.11V3321.90H4336.80z" fill="#000"/>
<use href="#pct" x="4368.80" y="3367.20"/>
<rect x="766" y="3854.5" width="3762.8" height="12.4" fill="#02a0d7"/>
<rect x="760.10" y="3823.5" width="3.1" height="67.3" fill="#02a0d7"/>
<rect x="1074.15" y="3823.5" width="3.1" height="67.3" fill="#02a0d7"/>
<rect x="1388.20" y="3823.5" width="3.1" height="67.3" fill="#02a0d7"/>
<rect x="1702.25" y="3823.5" width="3.1" height="67.3" fill="#02a0d7"/>
<rect x="2016.30" y="3823.5" width="3.1" height="67.3" fill="#02a0d7"/>
<rect x="2330.35" y="3823.5" width="3.1" height="67.3" fill="#02a0d7"/>
<rect x="2644.40" y="3823.5" width="3.1" height="67.3" fill="#02a0d7"/>
<rect x="2958.45" y="3823.5" width="3.1" height="67.3" fill="#02a0d7"/>
<rect x="3272.50" y="3823.5" width="3.1" height="67.3" fill="#02a0d7"/>
<rect x="3586.55" y="3823.5" width="3.1" height="67.3" fill="#02a0d7"/>
<rect x="3900.60" y="3823.5" width="3.1" height="67.3" fill="#02a0d7"/>
<rect x="4214.65" y="3823.5" width="3.1" height="67.3" fill="#02a0d7"/>
<rect x="4528.70" y="3823.5" width="3.1" height="67.3" fill="#02a0d7"/>
<text transform="translate(760.43 3978.10) scale(0.8276 0.7616)" font-size="100" font-weight="bold" fill="#02a0d7" stroke="#02a0d7" stroke-width="2.519" stroke-linejoin="round">2</text>
<path fill-rule="evenodd" fill="#02a0d7" d="M808.24 3952.40a22.22 27.90 0 1 0 44.43 0a22.22 27.90 0 1 0 -44.43 0zM821.78 3952.40a8.67 16.15 0 1 0 17.34 0a8.67 16.15 0 1 0 -17.34 0z"/>
<path fill-rule="evenodd" fill="#02a0d7" d="M856.76 3952.40a22.22 27.90 0 1 0 44.43 0a22.22 27.90 0 1 0 -44.43 0zM870.31 3952.40a8.67 16.15 0 1 0 17.34 0a8.67 16.15 0 1 0 -17.34 0z"/>
<text transform="translate(903.74 3978.60) scale(0.8263 0.7616)" font-size="100" font-weight="bold" fill="#02a0d7" stroke="#02a0d7" stroke-width="2.521" stroke-linejoin="round">5</text>
<path d="M981.9 3920.3H991.9L963.4 3990.6H952.9z" fill="#02a0d7"/>
<path fill-rule="evenodd" fill="#02a0d7" d="M993.70 3952.40a22.90 27.90 0 1 0 45.80 0a22.90 27.90 0 1 0 -45.80 0zM1007.66 3952.40a8.94 16.15 0 1 0 17.88 0a8.94 16.15 0 1 0 -17.88 0z"/>
<text transform="translate(1041.52 3978.60) scale(0.8726 0.7616)" font-size="100" font-weight="bold" fill="#02a0d7" stroke="#02a0d7" stroke-width="2.453" stroke-linejoin="round">6</text>
<text transform="translate(1135.51 3978.10) scale(0.8333 0.7616)" font-size="100" font-weight="bold" fill="#02a0d7" stroke="#02a0d7" stroke-width="2.510" stroke-linejoin="round">2</text>
<path fill-rule="evenodd" fill="#02a0d7" d="M1183.64 3952.40a22.36 27.90 0 1 0 44.72 0a22.36 27.90 0 1 0 -44.72 0zM1197.27 3952.40a8.73 16.15 0 1 0 17.46 0a8.73 16.15 0 1 0 -17.46 0z"/>
<path fill-rule="evenodd" fill="#02a0d7" d="M1232.48 3952.40a22.36 27.90 0 1 0 44.72 0a22.36 27.90 0 1 0 -44.72 0zM1246.11 3952.40a8.73 16.15 0 1 0 17.46 0a8.73 16.15 0 1 0 -17.46 0z"/>
<text transform="translate(1279.73 3978.60) scale(0.8179 0.7616)" font-size="100" font-weight="bold" fill="#02a0d7" stroke="#02a0d7" stroke-width="2.534" stroke-linejoin="round">8</text>
<text transform="translate(1454.73 3978.10) scale(0.8572 0.7616)" font-size="100" font-weight="bold" fill="#02a0d7" stroke="#02a0d7" stroke-width="2.475" stroke-linejoin="round">2</text>
<path fill-rule="evenodd" fill="#02a0d7" d="M1504.20 3952.40a22.97 27.90 0 1 0 45.94 0a22.97 27.90 0 1 0 -45.94 0zM1518.20 3952.40a8.97 16.15 0 1 0 17.93 0a8.97 16.15 0 1 0 -17.93 0z"/>
<path d="M1557.19 3925.70H1579.36V3979.10H1566.06V3938.70H1557.19z" fill="#02a0d7"/>
<path fill-rule="evenodd" fill="#02a0d7" d="M1593.46 3952.40a22.97 27.90 0 1 0 45.94 0a22.97 27.90 0 1 0 -45.94 0zM1607.46 3952.40a8.97 16.15 0 1 0 17.93 0a8.97 16.15 0 1 0 -17.93 0z"/>
<text transform="translate(1767.93 3978.10) scale(0.8575 0.7616)" font-size="100" font-weight="bold" fill="#02a0d7" stroke="#02a0d7" stroke-width="2.475" stroke-linejoin="round">2</text>
<path fill-rule="evenodd" fill="#02a0d7" d="M1817.42 3952.40a22.98 27.90 0 1 0 45.96 0a22.98 27.90 0 1 0 -45.96 0zM1831.43 3952.40a8.97 16.15 0 1 0 17.94 0a8.97 16.15 0 1 0 -17.94 0z"/>
<path d="M1870.43 3925.70H1892.60V3979.10H1879.30V3938.70H1870.43z" fill="#02a0d7"/>
<text transform="translate(1904.74 3978.10) scale(0.8575 0.7616)" font-size="100" font-weight="bold" fill="#02a0d7" stroke="#02a0d7" stroke-width="2.475" stroke-linejoin="round">2</text>
<text transform="translate(2080.89 3978.10) scale(0.8396 0.7616)" font-size="100" font-weight="bold" fill="#02a0d7" stroke="#02a0d7" stroke-width="2.501" stroke-linejoin="round">2</text>
<path fill-rule="evenodd" fill="#02a0d7" d="M2129.37 3952.40a22.52 27.90 0 1 0 45.04 0a22.52 27.90 0 1 0 -45.04 0zM2143.10 3952.40a8.79 16.15 0 1 0 17.58 0a8.79 16.15 0 1 0 -17.58 0z"/>
<path d="M2181.33 3925.70H2203.06V3979.10H2190.02V3938.70H2181.33z" fill="#02a0d7"/>
<text transform="translate(2215.31 3978.60) scale(0.8383 0.7616)" font-size="100" font-weight="bold" fill="#02a0d7" stroke="#02a0d7" stroke-width="2.503" stroke-linejoin="round">5</text>
<text transform="translate(2388.99 3978.10) scale(0.8695 0.7616)" font-size="100" font-weight="bold" fill="#02a0d7" stroke="#02a0d7" stroke-width="2.458" stroke-linejoin="round">2</text>
<path fill-rule="evenodd" fill="#02a0d7" d="M2439.15 3952.40a23.29 27.90 0 1 0 46.57 0a23.29 27.90 0 1 0 -46.57 0zM2453.35 3952.40a9.09 16.15 0 1 0 18.18 0a9.09 16.15 0 1 0 -18.18 0z"/>
<path d="M2492.87 3925.70H2515.34V3979.10H2501.86V3938.70H2492.87z" fill="#02a0d7"/>
<text transform="translate(2526.80 3978.10) scale(0.8921 0.7616)" font-size="100" font-weight="bold" fill="#02a0d7" stroke="#02a0d7" stroke-width="2.426" stroke-linejoin="round">7</text>
<text transform="translate(2705.05 3978.10) scale(0.8522 0.7616)" font-size="100" font-weight="bold" fill="#02a0d7" stroke="#02a0d7" stroke-width="2.482" stroke-linejoin="round">2</text>
<path fill-rule="evenodd" fill="#02a0d7" d="M2754.24 3952.40a22.84 27.90 0 1 0 45.69 0a22.84 27.90 0 1 0 -45.69 0zM2768.17 3952.40a8.92 16.15 0 1 0 17.83 0a8.92 16.15 0 1 0 -17.83 0z"/>
<path d="M2806.94 3925.70H2828.98V3979.10H2815.76V3938.70H2806.94z" fill="#02a0d7"/>
<text transform="translate(2841.35 3978.60) scale(0.8364 0.7616)" font-size="100" font-weight="bold" fill="#02a0d7" stroke="#02a0d7" stroke-width="2.506" stroke-linejoin="round">8</text>
<text transform="translate(3012.44 3978.10) scale(0.8538 0.7616)" font-size="100" font-weight="bold" fill="#02a0d7" stroke="#02a0d7" stroke-width="2.480" stroke-linejoin="round">2</text>
<path fill-rule="evenodd" fill="#02a0d7" d="M3061.72 3952.40a22.88 27.90 0 1 0 45.77 0a22.88 27.90 0 1 0 -45.77 0zM3075.67 3952.40a8.93 16.15 0 1 0 17.87 0a8.93 16.15 0 1 0 -17.87 0z"/>
<text transform="translate(3109.75 3978.10) scale(0.8538 0.7616)" font-size="100" font-weight="bold" fill="#02a0d7" stroke="#02a0d7" stroke-width="2.480" stroke-linejoin="round">2</text>
<path fill-rule="evenodd" fill="#02a0d7" d="M3159.03 3952.40a22.88 27.90 0 1 0 45.77 0a22.88 27.90 0 1 0 -45.77 0zM3172.98 3952.40a8.93 16.15 0 1 0 17.87 0a8.93 16.15 0 1 0 -17.87 0z"/>
<text transform="translate(3341.05 3978.10) scale(0.8500 0.7616)" font-size="100" font-weight="bold" fill="#02a0d7" stroke="#02a0d7" stroke-width="2.486" stroke-linejoin="round">2</text>
<path fill-rule="evenodd" fill="#02a0d7" d="M3390.12 3952.40a22.79 27.90 0 1 0 45.57 0a22.79 27.90 0 1 0 -45.57 0zM3404.01 3952.40a8.90 16.15 0 1 0 17.79 0a8.90 16.15 0 1 0 -17.79 0z"/>
<text transform="translate(3437.95 3978.10) scale(0.8500 0.7616)" font-size="100" font-weight="bold" fill="#02a0d7" stroke="#02a0d7" stroke-width="2.486" stroke-linejoin="round">2</text>
<path d="M3492.01 3925.70H3514.00V3979.10H3500.81V3938.70H3492.01z" fill="#02a0d7"/>
<text transform="translate(3643.84 3978.10) scale(0.8546 0.7616)" font-size="100" font-weight="bold" fill="#02a0d7" stroke="#02a0d7" stroke-width="2.479" stroke-linejoin="round">2</text>
<path fill-rule="evenodd" fill="#02a0d7" d="M3693.16 3952.40a22.90 27.90 0 1 0 45.81 0a22.90 27.90 0 1 0 -45.81 0zM3707.13 3952.40a8.94 16.15 0 1 0 17.88 0a8.94 16.15 0 1 0 -17.88 0z"/>
<text transform="translate(3741.23 3978.10) scale(0.8546 0.7616)" font-size="100" font-weight="bold" fill="#02a0d7" stroke="#02a0d7" stroke-width="2.479" stroke-linejoin="round">2</text>
<text transform="translate(3788.59 3978.10) scale(0.8546 0.7616)" font-size="100" font-weight="bold" fill="#02a0d7" stroke="#02a0d7" stroke-width="2.479" stroke-linejoin="round">2</text>
<text transform="translate(3958.37 3978.10) scale(0.8445 0.7616)" font-size="100" font-weight="bold" fill="#02a0d7" stroke="#02a0d7" stroke-width="2.494" stroke-linejoin="round">2</text>
<path fill-rule="evenodd" fill="#02a0d7" d="M4007.13 3952.40a22.65 27.90 0 1 0 45.29 0a22.65 27.90 0 1 0 -45.29 0zM4020.94 3952.40a8.84 16.15 0 1 0 17.68 0a8.84 16.15 0 1 0 -17.68 0z"/>
<text transform="translate(4054.67 3978.10) scale(0.8445 0.7616)" font-size="100" font-weight="bold" fill="#02a0d7" stroke="#02a0d7" stroke-width="2.494" stroke-linejoin="round">2</text>
<text transform="translate(4103.17 3978.10) scale(0.8266 0.7616)" font-size="100" font-weight="bold" fill="#02a0d7" stroke="#02a0d7" stroke-width="2.521" stroke-linejoin="round">4</text>
<text transform="translate(4271.97 3978.10) scale(0.8446 0.7616)" font-size="100" font-weight="bold" fill="#02a0d7" stroke="#02a0d7" stroke-width="2.494" stroke-linejoin="round">2</text>
<path fill-rule="evenodd" fill="#02a0d7" d="M4320.74 3952.40a22.65 27.90 0 1 0 45.30 0a22.65 27.90 0 1 0 -45.30 0zM4334.54 3952.40a8.84 16.15 0 1 0 17.68 0a8.84 16.15 0 1 0 -17.68 0z"/>
<text transform="translate(4368.28 3978.10) scale(0.8446 0.7616)" font-size="100" font-weight="bold" fill="#02a0d7" stroke="#02a0d7" stroke-width="2.494" stroke-linejoin="round">2</text>
<text transform="translate(4415.45 3978.60) scale(0.8433 0.7616)" font-size="100" font-weight="bold" fill="#02a0d7" stroke="#02a0d7" stroke-width="2.496" stroke-linejoin="round">5</text>
<rect x="463" y="4145" width="217.7" height="186" fill="#02a0d7"/>
<text transform="translate(504.76 4284.70) scale(1.1274 1.2892)" font-size="100" font-weight="bold" fill="#fff" stroke="#fff" stroke-width="2.488" stroke-linejoin="round">P</text>
<text transform="translate(585.34 4284.20) scale(0.9509 1.2747)" font-size="100" font-weight="bold" fill="#fff" stroke="#fff" stroke-width="3.633" stroke-linejoin="round">L</text>
<rect x="745.3" y="4158.8" width="166.8" height="35.1" fill="#02a0d7"/>
<rect x="745.3" y="4434" width="67.4" height="35.1" fill="#02a0d7"/>
<rect x="844.7" y="4434" width="67.4" height="35.1" fill="#02a0d7"/>
<rect x="1988.1" y="4145" width="217.8" height="186" fill="#6f6f6f"/>
<text transform="translate(2019.53 4285.50) scale(1.1169 1.2718)" font-size="100" font-weight="bold" fill="#fff" stroke="#fff" stroke-width="1.678" stroke-linejoin="round">D</text>
<text transform="translate(2107.70 4285.00) scale(1.0017 1.2573)" font-size="100" font-weight="bold" fill="#fff" stroke="#fff" stroke-width="2.673" stroke-linejoin="round">E</text>
<rect x="2273.2" y="4153.2" width="166.9" height="34.8" fill="#6f6f6f"/>
<rect x="2273.2" y="4430.2" width="66.9" height="32.8" fill="#6f6f6f"/>
<rect x="2373.2" y="4430.2" width="66.9" height="32.8" fill="#6f6f6f"/>
<text transform="translate(975.34 4192.50) scale(0.7024 0.7907)" font-size="100" font-weight="normal" fill="#000" stroke="#000" stroke-width="2.684" stroke-linejoin="round">D</text>
<text transform="translate(1026.07 4192.50) scale(0.7024 0.6496)" font-size="100" font-weight="normal" fill="#000" stroke="#000" stroke-width="2.961" stroke-linejoin="round">eutschland</text>
<rect x="1197.83" y="4131.70" width="8.17" height="15.73" fill="#000"/>
<rect x="1236.76" y="4131.70" width="8.17" height="15.73" fill="#000"/>
<rect x="1354.13" y="4131.70" width="8.17" height="15.73" fill="#000"/>
<text transform="translate(1388.69 4192.50) scale(0.6651 0.6496)" font-size="100" font-weight="normal" fill="#000" stroke="#000" stroke-width="3.043" stroke-linejoin="round">trägt</text>
<text transform="translate(1556.28 4192.50) scale(0.6883 0.6496)" font-size="100" font-weight="normal" fill="#000" stroke="#000" stroke-width="2.991" stroke-linejoin="round">eher</text>
<rect x="1598.33" y="4131.70" width="8.05" height="15.73" fill="#000"/>
<text transform="translate(1718.20 4192.50) scale(0.7657 0.6496)" font-size="100" font-weight="normal" fill="#000" stroke="#000" stroke-width="2.836" stroke-linejoin="round">zur</text>
<text transform="translate(977.73 4284.50) scale(0.6774 0.6496)" font-size="100" font-weight="normal" fill="#000" stroke="#000" stroke-width="3.015" stroke-linejoin="round">besseren</text>
<rect x="981.10" y="4223.70" width="7.95" height="15.73" fill="#000"/>
<text transform="translate(1278.16 4284.50) scale(0.7071 0.7907)" font-size="100" font-weight="normal" fill="#000" stroke="#000" stroke-width="2.675" stroke-linejoin="round">Z</text>
<text transform="translate(1321.35 4284.50) scale(0.7071 0.6496)" font-size="100" font-weight="normal" fill="#000" stroke="#000" stroke-width="2.951" stroke-linejoin="round">usammenarbeit</text>
<rect x="1698.26" y="4223.70" width="8.22" height="15.73" fill="#000"/>
<text transform="translate(977.50 4376.30) scale(0.6883 0.6496)" font-size="100" font-weight="normal" fill="#000" stroke="#000" stroke-width="2.991" stroke-linejoin="round">in</text>
<text transform="translate(1051.84 4376.30) scale(0.7026 0.7907)" font-size="100" font-weight="normal" fill="#000" stroke="#000" stroke-width="2.683" stroke-linejoin="round">E</text>
<text transform="translate(1098.70 4376.30) scale(0.7026 0.6496)" font-size="100" font-weight="normal" fill="#000" stroke="#000" stroke-width="2.960" stroke-linejoin="round">uropa</text>
<text transform="translate(1306.20 4376.30) scale(0.7442 0.6496)" font-size="100" font-weight="normal" fill="#000" stroke="#000" stroke-width="2.876" stroke-linejoin="round">bei</text>
<rect x="1310.00" y="4315.50" width="8.54" height="15.73" fill="#000"/>
<text transform="translate(975.34 4468.00) scale(0.7024 0.7907)" font-size="100" font-weight="normal" fill="#000" stroke="#000" stroke-width="2.684" stroke-linejoin="round">D</text>
<text transform="translate(1026.07 4468.00) scale(0.7024 0.6496)" font-size="100" font-weight="normal" fill="#000" stroke="#000" stroke-width="2.961" stroke-linejoin="round">eutschland</text>
<rect x="1197.83" y="4407.20" width="8.17" height="15.73" fill="#000"/>
<rect x="1236.76" y="4407.20" width="8.17" height="15.73" fill="#000"/>
<rect x="1354.13" y="4407.20" width="8.17" height="15.73" fill="#000"/>
<text transform="translate(1388.69 4468.00) scale(0.6651 0.6496)" font-size="100" font-weight="normal" fill="#000" stroke="#000" stroke-width="3.043" stroke-linejoin="round">trägt</text>
<text transform="translate(1556.28 4468.00) scale(0.6883 0.6496)" font-size="100" font-weight="normal" fill="#000" stroke="#000" stroke-width="2.991" stroke-linejoin="round">eher</text>
<rect x="1598.33" y="4407.20" width="8.05" height="15.73" fill="#000"/>
<text transform="translate(1718.20 4468.00) scale(0.7657 0.6496)" font-size="100" font-weight="normal" fill="#000" stroke="#000" stroke-width="2.836" stroke-linejoin="round">zur</text>
<text transform="translate(979.19 4559.80) scale(0.7061 0.7907)" font-size="100" font-weight="normal" fill="#000" stroke="#000" stroke-width="2.677" stroke-linejoin="round">V</text>
<text transform="translate(1026.28 4559.80) scale(0.7061 0.6496)" font-size="100" font-weight="normal" fill="#000" stroke="#000" stroke-width="2.953" stroke-linejoin="round">erschärfung</text>
<rect x="1163.57" y="4499.00" width="8.21" height="15.73" fill="#000"/>
<text transform="translate(1421.70 4559.80) scale(0.6901 0.6496)" font-size="100" font-weight="normal" fill="#000" stroke="#000" stroke-width="2.987" stroke-linejoin="round">der</text>
<rect x="1448.57" y="4499.00" width="8.07" height="15.73" fill="#000"/>
<text transform="translate(1549.22 4559.80) scale(0.7012 0.7907)" font-size="100" font-weight="normal" fill="#000" stroke="#000" stroke-width="2.686" stroke-linejoin="round">S</text>
<text transform="translate(1595.98 4559.80) scale(0.7012 0.6496)" font-size="100" font-weight="normal" fill="#000" stroke="#000" stroke-width="2.963" stroke-linejoin="round">treitigkeiten</text>
<rect x="1771.17" y="4499.00" width="8.16" height="15.73" fill="#000"/>
<text transform="translate(977.57 4651.00) scale(0.6972 0.6496)" font-size="100" font-weight="normal" fill="#000" stroke="#000" stroke-width="2.972" stroke-linejoin="round">und</text>
<rect x="1082.27" y="4590.20" width="8.13" height="15.73" fill="#000"/>
<text transform="translate(1118.80 4651.00) scale(0.7037 0.7907)" font-size="100" font-weight="normal" fill="#000" stroke="#000" stroke-width="2.681" stroke-linejoin="round">S</text>
<text transform="translate(1165.74 4651.00) scale(0.7037 0.6496)" font-size="100" font-weight="normal" fill="#000" stroke="#000" stroke-width="2.958" stroke-linejoin="round">pannungen</text>
<text transform="translate(1539.68 4651.00) scale(0.7054 0.6496)" font-size="100" font-weight="normal" fill="#000" stroke="#000" stroke-width="2.955" stroke-linejoin="round">in</text>
<text transform="translate(1615.26 4651.00) scale(0.6994 0.7907)" font-size="100" font-weight="normal" fill="#000" stroke="#000" stroke-width="2.689" stroke-linejoin="round">E</text>
<text transform="translate(1661.91 4651.00) scale(0.6994 0.6496)" font-size="100" font-weight="normal" fill="#000" stroke="#000" stroke-width="2.967" stroke-linejoin="round">uropa</text>
<text transform="translate(1869.53 4651.00) scale(0.7550 0.6496)" font-size="100" font-weight="normal" fill="#000" stroke="#000" stroke-width="2.856" stroke-linejoin="round">bei</text>
<rect x="1873.40" y="4590.20" width="8.64" height="15.73" fill="#000"/>
<text transform="translate(2503.23 4277.80) scale(0.6774 0.6496)" font-size="100" font-weight="normal" fill="#000" stroke="#000" stroke-width="3.015" stroke-linejoin="round">besseren</text>
<rect x="2506.60" y="4217.00" width="7.95" height="15.73" fill="#000"/>
<text transform="translate(2803.66 4277.80) scale(0.7071 0.7907)" font-size="100" font-weight="normal" fill="#000" stroke="#000" stroke-width="2.675" stroke-linejoin="round">Z</text>
<text transform="translate(2846.85 4277.80) scale(0.7071 0.6496)" font-size="100" font-weight="normal" fill="#000" stroke="#000" stroke-width="2.951" stroke-linejoin="round">usammenarbeit</text>
<rect x="3223.76" y="4217.00" width="8.22" height="15.73" fill="#000"/>
<text transform="translate(2503.00 4369.60) scale(0.6883 0.6496)" font-size="100" font-weight="normal" fill="#000" stroke="#000" stroke-width="2.991" stroke-linejoin="round">in</text>
<text transform="translate(2577.34 4369.60) scale(0.7026 0.7907)" font-size="100" font-weight="normal" fill="#000" stroke="#000" stroke-width="2.683" stroke-linejoin="round">E</text>
<text transform="translate(2624.20 4369.60) scale(0.7026 0.6496)" font-size="100" font-weight="normal" fill="#000" stroke="#000" stroke-width="2.960" stroke-linejoin="round">uropa</text>
<text transform="translate(2831.70 4369.60) scale(0.7442 0.6496)" font-size="100" font-weight="normal" fill="#000" stroke="#000" stroke-width="2.876" stroke-linejoin="round">bei</text>
<rect x="2835.50" y="4308.80" width="8.54" height="15.73" fill="#000"/>
<text transform="translate(2504.69 4553.10) scale(0.7061 0.7907)" font-size="100" font-weight="normal" fill="#000" stroke="#000" stroke-width="2.677" stroke-linejoin="round">V</text>
<text transform="translate(2551.78 4553.10) scale(0.7061 0.6496)" font-size="100" font-weight="normal" fill="#000" stroke="#000" stroke-width="2.953" stroke-linejoin="round">erschärfung</text>
<rect x="2689.07" y="4492.30" width="8.21" height="15.73" fill="#000"/>
<text transform="translate(2947.20 4553.10) scale(0.6901 0.6496)" font-size="100" font-weight="normal" fill="#000" stroke="#000" stroke-width="2.987" stroke-linejoin="round">der</text>
<rect x="2974.07" y="4492.30" width="8.07" height="15.73" fill="#000"/>
<text transform="translate(3074.72 4553.10) scale(0.7012 0.7907)" font-size="100" font-weight="normal" fill="#000" stroke="#000" stroke-width="2.686" stroke-linejoin="round">S</text>
<text transform="translate(3121.48 4553.10) scale(0.7012 0.6496)" font-size="100" font-weight="normal" fill="#000" stroke="#000" stroke-width="2.963" stroke-linejoin="round">treitigkeiten</text>
<rect x="3296.67" y="4492.30" width="8.16" height="15.73" fill="#000"/>
<text transform="translate(2503.07 4644.30) scale(0.6972 0.6496)" font-size="100" font-weight="normal" fill="#000" stroke="#000" stroke-width="2.972" stroke-linejoin="round">und</text>
<rect x="2607.77" y="4583.50" width="8.13" height="15.73" fill="#000"/>
<text transform="translate(2644.30 4644.30) scale(0.7037 0.7907)" font-size="100" font-weight="normal" fill="#000" stroke="#000" stroke-width="2.681" stroke-linejoin="round">S</text>
<text transform="translate(2691.24 4644.30) scale(0.7037 0.6496)" font-size="100" font-weight="normal" fill="#000" stroke="#000" stroke-width="2.958" stroke-linejoin="round">pannungen</text>
<text transform="translate(3065.18 4644.30) scale(0.7054 0.6496)" font-size="100" font-weight="normal" fill="#000" stroke="#000" stroke-width="2.955" stroke-linejoin="round">in</text>
<text transform="translate(3140.76 4644.30) scale(0.6994 0.7907)" font-size="100" font-weight="normal" fill="#000" stroke="#000" stroke-width="2.689" stroke-linejoin="round">E</text>
<text transform="translate(3187.41 4644.30) scale(0.6994 0.6496)" font-size="100" font-weight="normal" fill="#000" stroke="#000" stroke-width="2.967" stroke-linejoin="round">uropa</text>
<text transform="translate(3395.03 4644.30) scale(0.7550 0.6496)" font-size="100" font-weight="normal" fill="#000" stroke="#000" stroke-width="2.856" stroke-linejoin="round">bei</text>
<rect x="3398.90" y="4583.50" width="8.64" height="15.73" fill="#000"/>
<text transform="translate(2501.76 4186.00) scale(0.6998 0.7907)" font-size="100" font-weight="normal" fill="#000" stroke="#000" stroke-width="2.689" stroke-linejoin="round">P</text>
<text transform="translate(2548.44 4186.00) scale(0.6998 0.6496)" font-size="100" font-weight="normal" fill="#000" stroke="#000" stroke-width="2.966" stroke-linejoin="round">olen</text>
<rect x="2591.07" y="4125.20" width="8.15" height="15.73" fill="#000"/>
<text transform="translate(2699.47 4186.00) scale(0.6808 0.6496)" font-size="100" font-weight="normal" fill="#000" stroke="#000" stroke-width="3.007" stroke-linejoin="round">trägt</text>
<text transform="translate(2867.39 4186.00) scale(0.6847 0.6496)" font-size="100" font-weight="normal" fill="#000" stroke="#000" stroke-width="2.999" stroke-linejoin="round">eher</text>
<rect x="2909.22" y="4125.20" width="8.02" height="15.73" fill="#000"/>
<text transform="translate(3028.71 4186.00) scale(0.7620 0.6496)" font-size="100" font-weight="normal" fill="#000" stroke="#000" stroke-width="2.843" stroke-linejoin="round">zur</text>
<text transform="translate(2501.76 4461.20) scale(0.6998 0.7907)" font-size="100" font-weight="normal" fill="#000" stroke="#000" stroke-width="2.689" stroke-linejoin="round">P</text>
<text transform="translate(2548.44 4461.20) scale(0.6998 0.6496)" font-size="100" font-weight="normal" fill="#000" stroke="#000" stroke-width="2.966" stroke-linejoin="round">olen</text>
<rect x="2591.07" y="4400.40" width="8.15" height="15.73" fill="#000"/>
<text transform="translate(2699.47 4461.20) scale(0.6808 0.6496)" font-size="100" font-weight="normal" fill="#000" stroke="#000" stroke-width="3.007" stroke-linejoin="round">trägt</text>
<text transform="translate(2867.39 4461.20) scale(0.6847 0.6496)" font-size="100" font-weight="normal" fill="#000" stroke="#000" stroke-width="2.999" stroke-linejoin="round">eher</text>
<rect x="2909.22" y="4400.40" width="8.02" height="15.73" fill="#000"/>
<text transform="translate(3028.71 4461.20) scale(0.7620 0.6496)" font-size="100" font-weight="normal" fill="#000" stroke="#000" stroke-width="2.843" stroke-linejoin="round">zur</text>
<g>
<circle cx="3755.7" cy="4549.7" r="93.6" fill="#dadada"/>
<path d="M3695.00 4582.93A69.2 69.2 0 1 1 3816.05 4583.57" fill="none" stroke="#575756" stroke-width="1.5"/>
<path d="M3695.77 4584.30L3690.32 4587.45M3690.67 4573.37L3684.75 4575.52M3687.55 4561.72L3681.35 4562.81M3686.50 4549.70L3680.20 4549.70M3687.55 4537.68L3681.35 4536.59M3690.67 4526.03L3684.75 4523.88M3695.77 4515.10L3690.32 4511.95M3702.69 4505.22L3697.86 4501.17M3711.22 4496.69L3707.17 4491.86M3721.10 4489.77L3717.95 4484.32M3732.03 4484.67L3729.88 4478.75M3743.68 4481.55L3742.59 4475.35M3755.70 4480.50L3755.70 4474.20M3767.72 4481.55L3768.81 4475.35M3779.37 4484.67L3781.52 4478.75M3790.30 4489.77L3793.45 4484.32M3800.18 4496.69L3804.23 4491.86M3808.71 4505.22L3813.54 4501.17M3815.63 4515.10L3821.08 4511.95M3820.73 4526.03L3826.65 4523.88M3823.85 4537.68L3830.05 4536.59M3824.90 4549.70L3831.20 4549.70M3823.85 4561.72L3830.05 4562.81M3820.73 4573.37L3826.65 4575.52M3815.63 4584.30L3821.08 4587.45" fill="none" stroke="#575756" stroke-width="1.5"/>
<path d="M3732.48 4498.52A56.2 56.2 0 0 1 3779.36 4498.72" fill="none" stroke="#575756" stroke-width="1.5"/>
<path d="M3751.18 4623.56A74.00 74.00 0 0 1 3696.29 4593.82L3703.52 4588.45A65.00 65.00 0 0 0 3751.73 4614.58Z" fill="#ffffff"/>
<path d="M3750.62 4632.74A83.20 83.20 0 0 1 3688.91 4599.31L3696.29 4593.82A74.00 74.00 0 0 0 3751.18 4623.56Z" fill="#e30613"/>
<path d="M3813.14 4591.43A71.00 71.00 0 0 1 3760.03 4620.57L3759.67 4614.58A65.00 65.00 0 0 0 3808.29 4587.91Z" fill="#4a4543"/>
<path d="M3817.99 4594.96A77.00 77.00 0 0 1 3760.40 4626.56L3760.03 4620.57A71.00 71.00 0 0 0 3813.14 4591.43Z" fill="#e30613"/>
<path d="M3823.01 4598.60A83.20 83.20 0 0 1 3760.78 4632.74L3760.40 4626.56A77.00 77.00 0 0 0 3817.99 4594.96Z" fill="#f39200"/>
<line x1="3755.7" y1="4549.7" x2="3710.41" y2="4489.92" stroke="#575756" stroke-width="3.6"/>
<line x1="3707.23" y1="4492.33" x2="3713.60" y2="4487.50" stroke="#575756" stroke-width="2.6"/>
<line x1="3755.7" y1="4549.7" x2="3803.50" y2="4491.63" stroke="#575756" stroke-width="3.4"/>
<path d="M3755.70 4549.70L3776.96 4533.00L3768.00 4525.63Z" fill="#575756"/>
<line x1="3755.7" y1="4549.7" x2="3738.44" y2="4570.07" stroke="#575756" stroke-width="3.3"/>
<path d="M3735.08 4571.55L3729.91 4575.03L3719.00 4593.00L3734.94 4579.30L3737.52 4573.62Z" fill="#575756"/>
<circle cx="3738.44" cy="4570.07" r="4.5" fill="#575756"/>
<circle cx="3755.7" cy="4549.7" r="7.6" fill="#575756"/>
<circle cx="3633.56" cy="4508.83" r="4.7" fill="#575756"/>
<circle cx="3877.99" cy="4509.26" r="4.7" fill="#575756"/>
<text transform="translate(3653.51 4485.84) rotate(-58.00)" font-size="24.7" font-weight="bold" text-anchor="middle" fill="#575756" stroke="#575756" stroke-width="0.5">B</text>
<text transform="translate(3675.65 4459.63) rotate(-41.63)" font-size="24.7" font-weight="bold" text-anchor="middle" fill="#575756" stroke="#575756" stroke-width="0.5">A</text>
<text transform="translate(3704.28 4440.72) rotate(-25.26)" font-size="24.7" font-weight="bold" text-anchor="middle" fill="#575756" stroke="#575756" stroke-width="0.5">R</text>
<text transform="translate(3737.08 4430.65) rotate(-8.89)" font-size="24.7" font-weight="bold" text-anchor="middle" fill="#575756" stroke="#575756" stroke-width="0.5">O</text>
<text transform="translate(3771.39 4430.23) rotate(7.48)" font-size="24.7" font-weight="bold" text-anchor="middle" fill="#575756" stroke="#575756" stroke-width="0.5">M</text>
<text transform="translate(3804.42 4439.49) rotate(23.85)" font-size="24.7" font-weight="bold" text-anchor="middle" fill="#575756" stroke="#575756" stroke-width="0.5">E</text>
<text transform="translate(3833.51 4457.69) rotate(40.22)" font-size="24.7" font-weight="bold" text-anchor="middle" fill="#575756" stroke="#575756" stroke-width="0.5">T</text>
<text transform="translate(3856.29 4483.35) rotate(56.59)" font-size="24.7" font-weight="bold" text-anchor="middle" fill="#575756" stroke="#575756" stroke-width="0.5">R</text>
<text transform="translate(3618.39 4542.50) rotate(93.00)" font-size="24.7" font-weight="bold" text-anchor="middle" fill="#575756" stroke="#575756" stroke-width="0.5">P</text>
<text transform="translate(3622.06 4582.03) rotate(76.40)" font-size="24.7" font-weight="bold" text-anchor="middle" fill="#575756" stroke="#575756" stroke-width="0.5">O</text>
<text transform="translate(3635.67 4616.78) rotate(60.80)" font-size="24.7" font-weight="bold" text-anchor="middle" fill="#575756" stroke="#575756" stroke-width="0.5">L</text>
<text transform="translate(3659.84 4648.28) rotate(44.20)" font-size="24.7" font-weight="bold" text-anchor="middle" fill="#575756" stroke="#575756" stroke-width="0.5">S</text>
<text transform="translate(3691.15 4671.11) rotate(28.00)" font-size="24.7" font-weight="bold" text-anchor="middle" fill="#575756" stroke="#575756" stroke-width="0.5">K</text>
<text transform="translate(3725.00 4683.73) rotate(12.90)" font-size="24.7" font-weight="bold" text-anchor="middle" fill="#575756" stroke="#575756" stroke-width="0.5">A</text>
<text transform="translate(3758.34 4687.17) rotate(-1.10)" font-size="24.7" font-weight="bold" text-anchor="middle" fill="#575756" stroke="#575756" stroke-width="0.5">-</text>
<text transform="translate(3791.52 4682.45) rotate(-15.10)" font-size="24.7" font-weight="bold" text-anchor="middle" fill="#575756" stroke="#575756" stroke-width="0.5">N</text>
<text transform="translate(3819.62 4671.44) rotate(-27.70)" font-size="24.7" font-weight="bold" text-anchor="middle" fill="#575756" stroke="#575756" stroke-width="0.5">I</text>
<text transform="translate(3845.55 4653.79) rotate(-40.80)" font-size="24.7" font-weight="bold" text-anchor="middle" fill="#575756" stroke="#575756" stroke-width="0.5">E</text>
<text transform="translate(3872.05 4622.97) rotate(-57.80)" font-size="24.7" font-weight="bold" text-anchor="middle" fill="#575756" stroke="#575756" stroke-width="0.5">M</text>
<text transform="translate(3889.84 4579.93) rotate(-77.30)" font-size="24.7" font-weight="bold" text-anchor="middle" fill="#575756" stroke="#575756" stroke-width="0.5">C</text>
<text transform="translate(3892.83 4539.63) rotate(-94.20)" font-size="24.7" font-weight="bold" text-anchor="middle" fill="#575756" stroke="#575756" stroke-width="0.5">Y</text>
</g>
<rect x="3930.5" y="4505.1" width="3.6" height="93.5" fill="#575756"/>
<text transform="translate(3972.89 4537.85) scale(0.4692 0.4302)" font-size="100" font-weight="normal" fill="#575756" stroke="#575756" stroke-width="4.229" stroke-linejoin="round">25 Jahre deutsch-polnische</text>
<text transform="translate(3975.05 4594.05) scale(0.4628 0.4302)" font-size="100" font-weight="normal" fill="#575756" stroke="#575756" stroke-width="4.258" stroke-linejoin="round">Wahrnehmungsstudien</text>
</svg>
</body>
</html>
